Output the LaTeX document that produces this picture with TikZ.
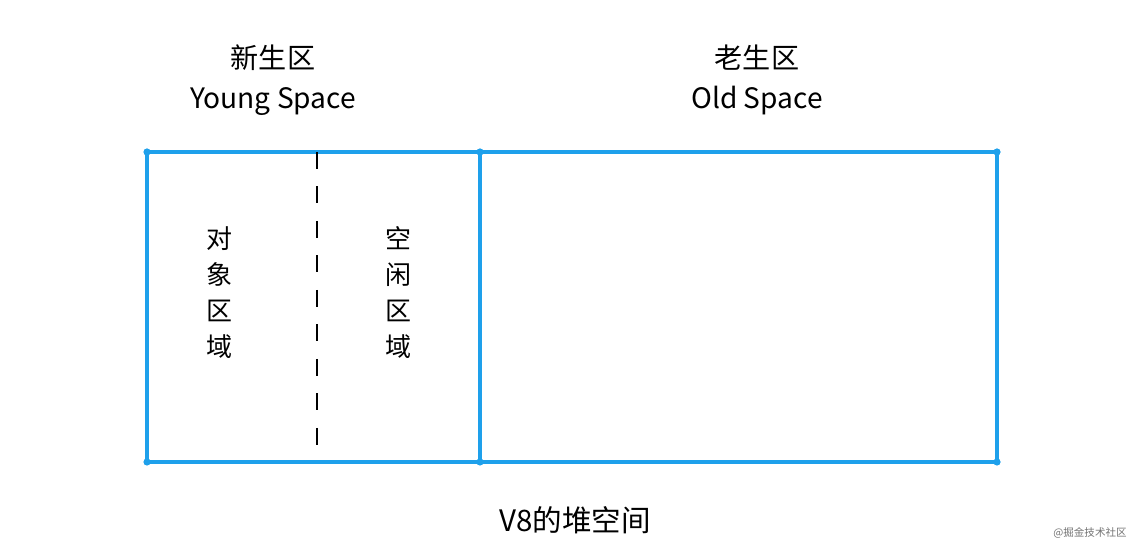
\documentclass[tikz,border=0pt]{standalone}
\usepackage{fontspec}
\setmainfont{Noto Sans CJK SC}
\definecolor{heapblue}{RGB}{30,160,235}
\tikzset{
  heapline/.style={draw=heapblue, line width=2.8pt, line join=round, line cap=round},
  corner/.style={fill=heapblue, draw=none},
  title/.style={font=\fontsize{20}{24}\selectfont, align=center, inner sep=0pt},
  area/.style={font=\fontsize{18.5}{25.6}\selectfont, align=center, inner sep=0pt}
}
\begin{document}
\begin{tikzpicture}
    \useasboundingbox (0, 0) rectangle (28.55, 13.75);
    % young space / old space titles
    \node [title] (young) at (6.825, 11.75) {新生区\\[4pt]Young Space};
    \node [title] (old) at (18.925, 11.75) {老生区\\[4pt]Old Space};
    % heap outline
    \draw [heapline] (3.675, 2.2) rectangle (24.925, 9.95);
    % young / old border
    \draw [heapline] (12.0, 2.2) -- (12.0, 9.95);
    % corner dots
    \foreach \x in {3.675, 12.0, 24.925}
      \foreach \y in {2.2, 9.95}
        \fill [corner] (\x, \y) circle (0.09);
    % semispace border
    \draw [line width=1.4pt, dash pattern=on 0.425cm off 0.4375cm] (7.925, 9.95) -- (7.925, 2.625);
    % from space / to space
    \node [area] (from) at (5.5, 6.43) {对\\象\\区\\域};
    \node [area] (to) at (9.95, 6.43) {空\\闲\\区\\域};
    % caption
    \node [font=\fontsize{21}{25}\selectfont, inner sep=0pt] (caption) at (14.375, 0.75) {V8的堆空间};
    % watermark
    \node [font=\fontsize{7.5}{9}\selectfont, text=black!55, inner sep=0pt] (mark) at (27.25, 0.42) {@掘金技术社区};
  \end{tikzpicture}
\end{document}
